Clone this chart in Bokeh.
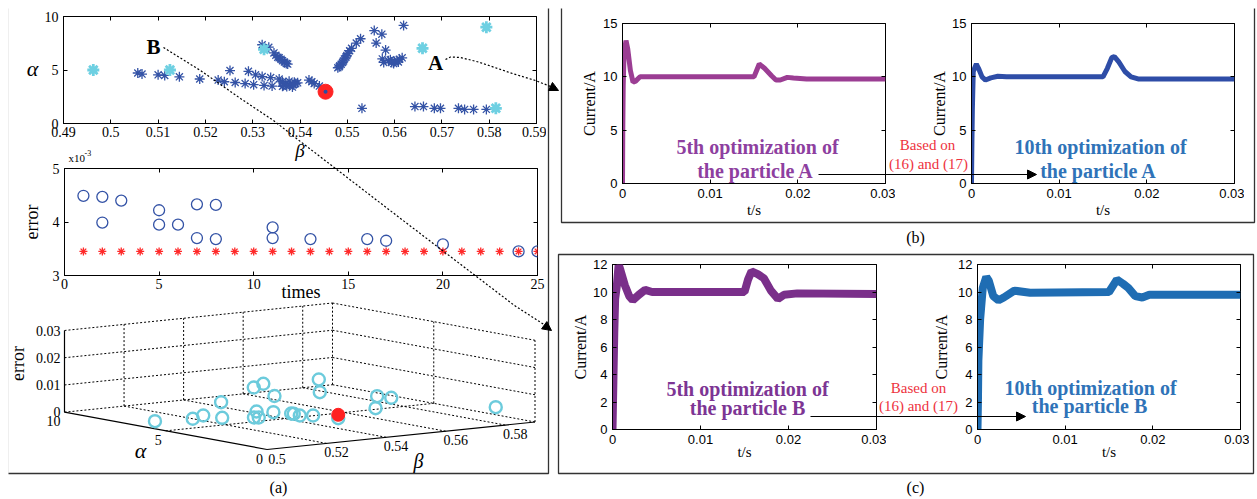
import numpy as np
from bokeh.plotting import figure
from bokeh.models import (Range1d, LinearAxis, FixedTicker, CustomJSTickFormatter,
                          Label, Arrow, NormalHead)
from bokeh.embed import file_html
from bokeh.resources import INLINE

SERIF = "Liberation Serif"
SANS = "Liberation Sans"

# ---------------- data ----------------
# (a) upper panel: particle positions (beta, alpha)
blue_points = [
    (0.5057, 4.72), (0.5066, 4.62), (0.5100, 4.55), (0.5114, 4.49), (0.5145, 4.36), (0.5188, 4.16),
    (0.5227, 4.06), (0.5240, 3.90), (0.5252, 4.95), (0.5263, 3.83),
    (0.5291, 4.88), (0.5306, 4.55), (0.5320, 4.39), (0.5338, 4.29), (0.5356, 4.16), (0.5377, 3.96), (0.5391, 3.73),
    (0.5284, 3.73), (0.5302, 3.63), (0.5324, 3.56), (0.5341, 3.50), (0.5363, 3.47), (0.5384, 3.40),
    (0.5363, 3.90), (0.5370, 3.75), (0.5378, 3.60), (0.5365, 3.55), (0.5388, 3.85), (0.5395, 3.80),
    (0.5372, 3.45), (0.5386, 3.62),
    (0.5320, 7.36), (0.5334, 7.13), (0.5345, 6.60), (0.5349, 6.37), (0.5353, 6.20), (0.5356, 6.14),
    (0.5360, 6.00), (0.5363, 5.87), (0.5367, 5.75), (0.5371, 5.61), (0.5374, 5.55),
    (0.5419, 4.06), (0.5425, 3.90), (0.5430, 3.73), (0.5441, 3.50),
    (0.5480, 5.21), (0.5483, 5.30), (0.5484, 5.40), (0.5487, 5.54), (0.5490, 5.70), (0.5492, 5.85),
    (0.5494, 6.04), (0.5497, 6.20), (0.5499, 6.35), (0.5501, 6.53), (0.5505, 6.80), (0.5509, 7.03),
    (0.5519, 7.52), (0.5528, 7.92),
    (0.5531, 1.42),
    (0.5557, 8.68), (0.5573, 8.35), (0.5561, 7.52), (0.5581, 6.86), (0.5574, 6.04), (0.5577, 5.71),
    (0.5619, 9.17),
    (0.5587, 5.87), (0.5591, 5.95), (0.5594, 5.71), (0.5598, 5.60), (0.5600, 5.80), (0.5605, 5.87),
    (0.5608, 5.75), (0.5610, 6.00), (0.5616, 6.14),
    (0.5643, 1.58), (0.5661, 1.58), (0.5684, 1.42), (0.5697, 1.42), (0.5735, 1.42), (0.5748, 1.32),
    (0.5767, 1.32), (0.5794, 1.32),
]
blue_beta = [p[0] for p in blue_points]
blue_alpha = [p[1] for p in blue_points]
cyan_beta = [0.4963, 0.5125, 0.5324, 0.5659, 0.5794, 0.5814]
cyan_alpha = [5.00, 5.00, 6.93, 7.03, 9.00, 1.42]
best_beta = [0.5454]
best_alpha = [2.97]
a1_xticks = [0.49, 0.50, 0.51, 0.52, 0.53, 0.54, 0.55, 0.56, 0.57, 0.58, 0.59]
a1_yticks = [0, 5, 10]

# (a) middle panel: error vs times
circ_times = [1, 2, 2, 3, 5, 5, 6, 7, 7, 8, 8, 11, 11, 13, 16, 17, 20, 24, 25]
circ_err = [4.49e-3, 4.47e-3, 3.99e-3, 4.40e-3, 4.22e-3, 3.95e-3, 3.95e-3, 4.33e-3, 3.70e-3,
            4.32e-3, 3.68e-3, 3.90e-3, 3.70e-3, 3.68e-3, 3.68e-3, 3.65e-3, 3.58e-3, 3.45e-3, 3.45e-3]
star_times = [1, 2, 3, 4, 5, 6, 7, 8, 9, 10, 11, 12, 13, 14, 15, 16, 17, 18, 19, 20, 21, 22, 23, 24, 25]
star_err = [3.45e-3, 3.45e-3, 3.45e-3, 3.45e-3, 3.45e-3, 3.45e-3, 3.45e-3, 3.45e-3, 3.45e-3,
            3.45e-3, 3.45e-3, 3.45e-3, 3.45e-3, 3.45e-3, 3.45e-3, 3.45e-3, 3.45e-3, 3.45e-3,
            3.45e-3, 3.45e-3, 3.45e-3, 3.45e-3, 3.45e-3, 3.45e-3, 3.45e-3]
a2_xticks = [0, 5, 10, 15, 20, 25]
a2_yticks = [3e-3, 4e-3, 5e-3]

# (a) lower panel: 3-D (beta, alpha, error)
p3_beta = [0.5010, 0.5088, 0.5149, 0.5343, 0.5163, 0.5586, 0.5650, 0.5311, 0.5235, 0.5245, 0.5339,
           0.5531, 0.5364, 0.5362, 0.5357, 0.5386, 0.5820, 0.5673, 0.5450, 0.5606, 0.5750, 0.5762, 0.5877]
p3_alpha = [5.68, 4.96, 5.34, 7.31, 4.61, 9.27, 9.74, 5.09, 4.10, 4.01, 4.67,
            7.44, 4.03, 4.13, 3.63, 3.40, 9.50, 7.29, 3.10, 3.55, 5.59, 5.07, 1.60]
p3_err = [0.0025, 0.0035, 0.0035, 0.0035, 0.0035, 0.0035, 0.0035, 0.0035, 0.0035, 0.0035, 0.0035,
          0.0035, 0.0035, 0.0035, 0.0035, 0.0035, 0.0035, 0.0035, 0.0022, 0.0035, 0.0035, 0.0035, 0.0035]
best3_beta = [0.545]
best3_alpha = [3.10]
best3_err = [0.00345]
p3_beta_ticks = [0.50, 0.52, 0.54, 0.56, 0.58]
p3_alpha_ticks = [0, 5, 10]
p3_err_ticks = [0, 0.01, 0.02, 0.03]

# (b) currents, particle A
bA5_t = [0, 0.00003, 0.00008, 0.00018, 0.0004, 0.0006, 0.0009, 0.0012, 0.0015, 0.002, 0.015,
         0.0153, 0.0156, 0.0162, 0.017, 0.0175, 0.018, 0.0188, 0.0195, 0.021, 0.03]
bA5_i = [0, 5.0, 9.2, 12.3, 13.4, 12.6, 10.6, 9.5, 9.6, 10.0, 10.0,
         10.6, 11.2, 10.8, 10.1, 9.7, 9.7, 9.95, 9.9, 9.8, 9.8]
bA10_t = [0, 0.00005, 0.0001, 0.0002, 0.00055, 0.0008, 0.0012, 0.0016, 0.0022, 0.003, 0.004, 0.015,
          0.0155, 0.016, 0.0163, 0.0168, 0.0175, 0.0182, 0.019, 0.03]
bA10_i = [0, 4.0, 7.0, 10.5, 11.2, 10.8, 10.0, 9.7, 9.9, 10.05, 10.0, 10.0,
          10.8, 11.8, 11.9, 11.4, 10.5, 10.0, 9.8, 9.8]
# (c) currents, particle B
cB5_t = [0, 0.0001, 0.0002, 0.0003, 0.0005, 0.0007, 0.0009, 0.0014, 0.0019, 0.0023, 0.003, 0.0037,
         0.0045, 0.015, 0.0154, 0.0158, 0.0165, 0.0172, 0.018, 0.0188, 0.0195, 0.021, 0.03]
cB5_i = [0, 3.5, 7.0, 9.5, 10.5, 12.0, 11.6, 10.5, 9.7, 9.4, 9.8, 10.15,
         10.0, 10.0, 10.9, 11.5, 11.3, 11.0, 10.1, 9.5, 9.8, 9.9, 9.85]
cB10_t = [0, 0.00005, 0.0001, 0.0003, 0.0006, 0.001, 0.0013, 0.0018, 0.0024, 0.003, 0.0042, 0.006,
          0.015, 0.0155, 0.0159, 0.0166, 0.0172, 0.018, 0.0188, 0.0196, 0.03]
cB10_i = [0, 2.0, 5.0, 8.0, 10.3, 11.1, 10.8, 9.7, 9.4, 9.6, 10.1, 9.95,
          10.0, 10.5, 10.9, 10.6, 10.3, 9.7, 9.6, 9.8, 9.8]
t_ticks = [0, 0.01, 0.02, 0.03]
b_yticks = [0, 5, 10, 15]
c_yticks = [0, 2, 4, 6, 8, 10, 12]


# ---------------- helpers ----------------
def fmt2():
    return CustomJSTickFormatter(code="return String(Math.round(tick*100)/100)")


def place(p, left, top, z=1):
    p.styles = {"position": "absolute", "left": f"{int(left)}px", "top": f"{int(top)}px",
                "z-index": str(z)}


def axes_fig(fl, ft, fr, fb, xr, yr, xt, yt, L=58, R=10, T=8, B=42,
             font=SERIF, fsize="14px"):
    W = int(round(fr - fl)) + L + R
    H = int(round(fb - ft)) + T + B
    p = figure(width=W, height=H, x_range=xr, y_range=yr, output_backend="svg",
               toolbar_location=None, title=None,
               min_border_left=L, min_border_right=R, min_border_top=T, min_border_bottom=B)
    place(p, int(round(fl)) - L, int(round(ft)) - T)
    p.xgrid.visible = False
    p.ygrid.visible = False
    p.outline_line_color = "black"
    p.background_fill_color = "white"
    p.border_fill_color = None
    xa, ya = p.below[0], p.left[0]
    xa.ticker = FixedTicker(ticks=xt)
    ya.ticker = FixedTicker(ticks=yt)
    for ax in (xa, ya):
        ax.major_tick_in = 4
        ax.major_tick_out = 0
        ax.minor_tick_line_color = None
        ax.axis_line_color = "black"
        ax.major_tick_line_color = "black"
        ax.major_label_text_font = font
        ax.major_label_text_font_size = fsize
        ax.major_label_text_color = "black"
        ax.axis_label_text_font = SERIF
        ax.axis_label_text_font_style = "normal"
        ax.axis_label_text_color = "black"
    xa.major_label_standoff = 3
    ya.major_label_standoff = 5
    # MATLAB-style box: inward ticks on the opposite sides too (no labels)
    top = LinearAxis(ticker=FixedTicker(ticks=[], minor_ticks=xt), major_tick_line_color=None,
                     minor_tick_in=4, minor_tick_out=0, minor_tick_line_color="black",
                     axis_line_color=None, major_label_standoff=0)
    right = LinearAxis(ticker=FixedTicker(ticks=[], minor_ticks=yt), major_tick_line_color=None,
                       minor_tick_in=4, minor_tick_out=0, minor_tick_line_color="black",
                       axis_line_color=None, major_label_standoff=0)
    p.add_layout(top, "above")
    p.add_layout(right, "right")
    return p


roots = []

# ---- (a) upper ----
a1 = axes_fig(63, 16, 536, 123, Range1d(0.49, 0.59), Range1d(0, 10), a1_xticks, a1_yticks)
a1x = a1.below[0]
a1x.formatter = fmt2()
a1x.axis_label = "β"
a1x.axis_label_text_font_style = "italic"
a1x.axis_label_text_font_size = "19px"
a1x.axis_label_standoff = 0
a1.scatter(blue_beta, blue_alpha, marker="asterisk", size=10, line_color="#3453A6", line_width=1.3)
a1.scatter(cyan_beta, cyan_alpha, marker="asterisk", size=12, line_color="#6ED0E2", line_width=2.8)
a1.scatter(best_beta, best_alpha, marker="circle", size=15, fill_color="#FF2424", line_color="#FF2424")
a1.scatter(best_beta, best_alpha, marker="circle", size=4, fill_color="#2B4DA0", line_color=None)
roots.append(a1)

# ---- (a) middle ----
a2 = axes_fig(64, 168, 537, 275, Range1d(0, 25), Range1d(3e-3, 5e-3), a2_xticks, a2_yticks)
a2x, a2y = a2.below[0], a2.left[0]
a2y.formatter = CustomJSTickFormatter(code="return String(Math.round(tick*1000))")
a2x.axis_label = "times"
a2x.axis_label_text_font_size = "18px"
a2x.axis_label_standoff = -10
a2y.axis_label = "error"
a2y.axis_label_text_font_size = "18px"
a2y.axis_label_standoff = 8
a2.scatter(circ_times, circ_err, marker="circle", size=11, fill_color=None,
           line_color="#3453A6", line_width=1.3)
a2.scatter(star_times, star_err, marker="asterisk", size=8, line_color="#FF2A2A", line_width=1.3)
roots.append(a2)


# ---- current plots ----
def current_fig(fl, ft, fr, fb, yr, yt, t, i, color, lw, ylab_stand, xlab_stand, R=10):
    p = axes_fig(fl, ft, fr, fb, Range1d(0, 0.03), yr, t_ticks, yt, L=60, R=R, T=10, B=40,
                 font=SANS, fsize="13px")
    xa, ya = p.below[0], p.left[0]
    xa.formatter = fmt2()
    xa.major_label_standoff = 5
    xa.axis_label = "t/s"
    xa.axis_label_text_font_size = "15px"
    xa.axis_label_standoff = xlab_stand
    ya.axis_label = "Current/A"
    ya.axis_label_text_font_size = "16px"
    ya.axis_label_standoff = ylab_stand
    p.line(t, i, line_color=color, line_width=lw)
    return p


roots.append(current_fig(622, 23, 885, 183, Range1d(0, 15), b_yticks, bA5_t, bA5_i, "#9B3D93", 5, 2, 1))
roots.append(current_fig(971, 23, 1234, 183, Range1d(0, 15), b_yticks, bA10_t, bA10_i, "#2E4DA7", 5, 1, 1))
roots.append(current_fig(612, 264, 876, 429, Range1d(0, 12), c_yticks, cB5_t, cB5_i, "#7A2F8A", 8, 1, -3))
roots.append(current_fig(977, 264, 1240, 429, Range1d(0, 12), c_yticks, cB10_t, cB10_i, "#1F6DB3", 8, 5, -3, R=9))

# ---------------- overlay (page coordinates) ----------------
ov = figure(width=1248, height=490, x_range=Range1d(8, 1256), y_range=Range1d(498, 8),
            output_backend="svg", toolbar_location=None, title=None, min_border=0,
            x_axis_location=None, y_axis_location=None)
place(ov, 8, 8, z=5)
ov.grid.visible = False
ov.outline_line_color = None
ov.background_fill_color = None
ov.border_fill_color = None


def lab(x, y, text, size, font=SERIF, style="normal", color="black", align="center",
        baseline="middle", angle=0.0):
    ov.add_layout(Label(x=x, y=y, text=text, text_font=font, text_font_size=f"{size}px",
                        text_font_style=style, text_color=color, text_align=align,
                        text_baseline=baseline, angle=angle))


# 3-D projection of (beta, alpha, error) into the lower part of panel (a)
B0, B1, A1, E1 = 0.5, 0.59, 10.0, 0.03
O3 = (266.5, 449.0)
VB = (268.0, -27.5)
VA = (-202.5, -37.3)
VZ = -81.7


def proj(b, a, e):
    b = np.asarray(b, float)
    a = np.asarray(a, float)
    e = np.asarray(e, float)
    u = (b - B0) / (B1 - B0)
    v = a / A1
    w = e / E1
    return O3[0] + u * VB[0] + v * VA[0], O3[1] + u * VB[1] + v * VA[1] + w * VZ


def seg(xs, ys, p, q):
    x, y = proj([p[0], q[0]], [p[1], q[1]], [p[2], q[2]])
    xs.append(list(x))
    ys.append(list(y))


dx, dy = [], []
bet_lines = p3_beta_ticks[1:] + [B1]
for b in bet_lines:
    seg(dx, dy, (b, 0, 0), (b, A1, 0))            # floor
    seg(dx, dy, (b, A1, 0), (b, A1, E1))          # back wall alpha=10
for a in p3_alpha_ticks[1:]:
    seg(dx, dy, (B0, a, 0), (B1, a, 0))           # floor
for a in p3_alpha_ticks[:-1]:
    seg(dx, dy, (B1, a, 0), (B1, a, E1))          # back wall beta=max
for e in p3_err_ticks[1:]:
    seg(dx, dy, (B0, A1, e), (B1, A1, e))
    seg(dx, dy, (B1, A1, e), (B1, 0, e))
ov.multi_line(dx, dy, line_color="black", line_width=1, line_dash="2 2")

sx, sy = [], []
seg(sx, sy, (B0, A1, 0), (B0, A1, E1))
seg(sx, sy, (B0, A1, 0), (B0, 0, 0))
seg(sx, sy, (B0, 0, 0), (B1, 0, 0))
ov.multi_line(sx, sy, line_color="black", line_width=1.2)

for e in p3_err_ticks:
    x, y = proj([B0], [A1], [e])
    lab(float(x[0]) - 4, float(y[0]), f"{e:g}" if e else "0", 14, align="right")
for a in p3_alpha_ticks:
    x, y = proj([B0], [a], [0])
    lab(float(x[0]) - 4, float(y[0]) + 9, str(a), 14, align="right")
for b in p3_beta_ticks:
    x, y = proj([b], [0], [0])
    lab(float(x[0]) + 10, float(y[0]) + 9, f"{b:g}", 14)
lab(17, 363, "error", 18, angle=np.pi / 2)
lab(140, 450, "α", 22, style="italic")
lab(418, 460, "β", 20, style="italic")

px, py = proj(p3_beta, p3_alpha, p3_err)
ov.scatter(px, py, marker="circle", size=12, fill_color=None, line_color="#6CCBDC", line_width=2.4)
bx, by = proj(best3_beta, best3_alpha, best3_err)
ov.scatter(bx, by, marker="circle", size=13, fill_color="#FF2020", line_color="#FF2020")
rx, ry = proj(best3_beta, best3_alpha, [p3_err[18]])
ov.scatter(rx, ry, marker="circle", size=5, fill_color="#FF2020", line_color=None)

# panel frames
ov.quad(left=[7, 561, 558], right=[548, 1254, 1253], top=[4, 4, 254], bottom=[473, 222, 473],
        fill_color=None, line_color="#333333", line_width=1.3)

# captions and annotations
lab(278, 487, "(a)", 16)
lab(915, 237, "(b)", 16)
lab(915, 487, "(c)", 16)
lab(32, 68, "α", 22, style="italic")
lab(68, 157, "x10", 11, align="left")
lab(84, 152, "-3", 8, align="left")
lab(153, 46.5, "B", 21, style="bold")
lab(435, 62, "A", 21, style="bold")

PUR_B = "#8E3FA0"
PUR_C = "#7D3594"
BLU = "#2F73B8"
RED = "#EE3340"
lab(757, 146, "5th optimization of", 20, style="bold", color=PUR_B)
lab(755, 170, "the particle A", 20, style="bold", color=PUR_B)
lab(1100, 146, "10th optimization of", 20, style="bold", color=BLU)
lab(1098, 170, "the particle A", 20, style="bold", color=BLU)
lab(927, 144, "Based on", 15, color=RED)
lab(928, 163, "(16) and (17)", 15, color=RED)
lab(747, 388, "5th optimization of", 20, style="bold", color=PUR_C)
lab(747, 407, "the particle B", 20, style="bold", color=PUR_C)
lab(1090, 387, "10th optimization of", 20, style="bold", color=BLU)
lab(1089, 405, "the particle B", 20, style="bold", color=BLU)
lab(918, 387, "Based on", 15, color=RED)
lab(918, 405, "(16) and (17)", 15, color=RED)

# arrows
head = dict(size=9, fill_color="black", line_color="black")
ov.add_layout(Arrow(end=NormalHead(**head), x_start=818, y_start=174, x_end=1036, y_end=174,
                    line_color="black", line_width=1))
ov.add_layout(Arrow(end=NormalHead(**head), x_start=810, y_start=416, x_end=1025, y_end=416,
                    line_color="black", line_width=1))
B_path_x = [163, 200, 240, 273, 296, 400, 514, 545]
B_path_y = [47, 70, 98, 120, 138, 218, 305, 325]
ov.line(B_path_x, B_path_y, line_color="black", line_width=1.2, line_dash="2 2")
ov.add_layout(Arrow(end=NormalHead(**head), x_start=540, y_start=322, x_end=551, y_end=330,
                    line_color=None))
A_path_x = [445, 450, 460, 478, 512, 535, 550]
A_path_y = [59, 56.5, 57, 61.5, 73, 80, 86]
ov.line(A_path_x, A_path_y, line_color="black", line_width=1.2, line_dash="2 2")
ov.add_layout(Arrow(end=NormalHead(**head), x_start=548, y_start=85, x_end=558, y_end=90,
                    line_color=None))

roots.append(ov)
open("out.html", "w").write(file_html(roots, INLINE))
